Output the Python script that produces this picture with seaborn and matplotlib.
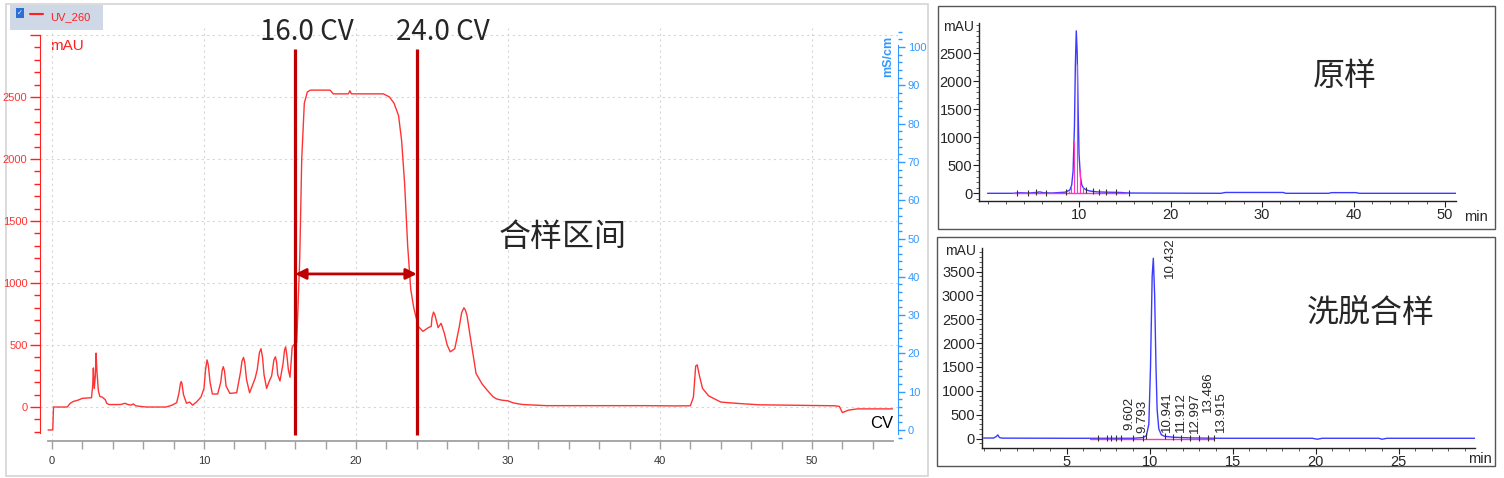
# 层析图 + 两张HPLC图 复刻
import numpy as np
import pandas as pd
import seaborn as sns
import matplotlib
matplotlib.use('Agg')
from matplotlib import pyplot as plt
from matplotlib import font_manager
from matplotlib.patches import Rectangle
from matplotlib.ticker import MultipleLocator

# ---- 左图: UV_260 洗脱曲线 (CV, mAU) ----
cv = [-0.26, 0.05, 0.1, 1.0, 1.2, 1.4, 1.7, 2.0, 2.6, 2.68, 2.72, 2.78, 2.85, 2.9,
      2.95, 3.05, 3.15, 3.3, 3.5, 3.6, 3.75, 4.5, 4.8, 5.0, 5.2, 5.35, 5.5, 5.8,
      6.2, 7.5, 7.9, 8.2, 8.35, 8.45, 8.5, 8.55, 8.65, 8.85, 9.05, 9.25, 9.5, 9.8,
      10.0, 10.1, 10.2, 10.28, 10.4, 10.55, 10.9, 11.1, 11.2, 11.27, 11.35, 11.45,
      11.7, 12.15, 12.4, 12.5, 12.6, 12.68, 12.8, 13.0, 13.2, 13.36, 13.5, 13.65,
      13.75, 13.85, 13.95, 14.12, 14.3, 14.45, 14.6, 14.7, 14.78, 14.85, 15.0,
      15.2, 15.3, 15.37, 15.45, 15.55, 15.66, 15.8, 15.9, 16.1, 16.3, 16.43, 16.6,
      16.8, 17.0, 18.3, 18.5, 19.5, 19.6, 19.7, 21.8, 22.2, 22.5, 22.8, 23.0,
      23.2, 23.4, 23.6, 23.8, 24.1, 24.4, 24.76, 24.95, 25.0, 25.1, 25.2, 25.4,
      25.6, 25.8, 26.0, 26.2, 26.5, 26.8, 26.95, 27.1, 27.2, 27.3, 27.5, 27.9,
      28.3, 28.6, 29.0, 29.25, 29.6, 30.0, 30.3, 30.7, 31.0, 32.5, 39.0, 41.0,
      42.0, 42.2, 42.35, 42.45, 42.6, 42.8, 43.2, 43.6, 44.0, 45.0, 46.5, 50.0,
      51.5, 51.8, 52.0, 52.4, 53.0, 55.3]
uv = [-185, -185, 0, 0, 30, 45, 55, 70, 75, 180, 315, 150, 250, 435,
      300, 130, 85, 80, 60, 30, 20, 20, 30, 20, 15, 25, 10, 5,
      0, 0, 15, 35, 110, 190, 205, 190, 100, 30, 40, 15, 40, 80,
      150, 300, 380, 340, 200, 105, 105, 200, 300, 325, 290, 170,
      110, 115, 280, 370, 400, 360, 220, 115, 180, 230, 300, 440,
      470, 400, 260, 150, 210, 250, 380, 405, 360, 260, 210,
      350, 460, 485, 420, 300, 240, 480, 500, 520, 1200, 2000, 2450,
      2540, 2555, 2555, 2525, 2525, 2550, 2525, 2525, 2500, 2450, 2350, 2150,
      1800, 1300, 950, 800, 650, 610, 640, 650, 720, 765, 740, 640,
      675, 600, 500, 445, 470, 650, 760, 800, 780, 740, 580, 270,
      185, 140, 85, 65, 55, 50, 35, 25, 20, 11, 11, 9,
      10, 80, 330, 340, 250, 150, 90, 65, 40, 30, 18, 12,
      10, 5, -45, -25, -15, -15]

cut_cv = [16.0, 24.0]
cut_text = ['16.0 CV', '24.0 CV']
cut_text_cv = [16.8, 25.7]
pool_text = '合样区间'

# ---- 右上: 原样 HPLC (min, mAU) ----
t_raw = [0, 2.8, 3.5, 4.5, 5.3, 5.7, 6.1, 7.0, 8.5, 9.0, 9.2, 9.35, 9.5, 9.6, 9.7,
         9.8, 9.9, 10.0, 10.15, 10.3, 10.5, 10.8, 11.2, 12.0, 13.0, 14.5, 15.5,
         25.5, 26.0, 32.3, 32.6, 37.3, 37.6, 40.3, 40.6, 51.2]
s_raw = [0, 0, 10, 5, 15, 25, 10, 5, 20, 60, 150, 400, 1200, 2300, 2900,
         2500, 1500, 700, 300, 150, 90, 60, 40, 25, 20, 15, 5,
         0, 15, 15, 0, 0, 12, 12, 0, 0]
base_raw = [2.8, 15.2]
drop_raw = [8.85, 9.15, 9.45, 9.82, 10.1, 10.4]
event_raw = [3.2, 4.4, 5.3, 6.4, 8.6, 10.8, 11.5, 12.2, 12.9, 14.0, 15.5]

# ---- 右下: 洗脱合样 HPLC ----
t_pool = [0, 0.6, 0.75, 0.85, 0.95, 1.1, 5.0, 9.0, 9.6, 9.8, 9.95, 10.05, 10.15,
          10.22, 10.3, 10.38, 10.45, 10.55, 10.7, 10.9, 11.5, 12.5, 14.0, 19.8,
          20.1, 20.4, 23.8, 24.0, 24.3, 29.6]
s_pool = [10, 10, 40, 75, 20, 8, 5, 5, 20, 60, 300, 1500, 3400,
          3780, 3000, 1500, 600, 200, 80, 45, 25, 12, 5, 5,
          -15, 5, 5, -15, 5, 5]
base_pool = [6.4, 13.9]
event_pool = [6.9, 7.4, 7.7, 8.0, 8.3, 9.0, 9.6, 9.8, 10.9, 11.4, 11.9, 12.4,
              13.0, 13.5, 13.9]
peak_rt = [9.602, 9.793, 10.432, 10.941, 11.912, 12.997, 13.486, 13.915]
peak_lab_x = [8.77, 9.57, 11.22, 11.06, 11.87, 12.73, 13.53, 14.28]
peak_lab_y = [178, 115, 3358, 135, 135, 115, 562, 135]

sns.set_style('white')
plt.rcParams['font.family'] = ['Liberation Sans', 'Noto Sans CJK SC', 'DejaVu Sans']
names = {f.name for f in font_manager.fontManager.ttflist}
narrow = 'Liberation Sans Narrow' if 'Liberation Sans Narrow' in names else 'Liberation Sans'
cjk = ['Noto Sans CJK SC', 'DejaVu Sans']

W, H = 1504, 478
fig = plt.figure(figsize=(W / 100, H / 100), dpi=100)


def px_axes(x0, y0, x1, y1):
    a = fig.add_axes([x0 / W, 1 - y1 / H, (x1 - x0) / W, (y1 - y0) / H])
    a.set_facecolor('none')
    return a


# 背景层 (像素坐标): 边框, 图例, 单位文字
bg = px_axes(0, 0, W, H)
bg.set_xlim(0, W)
bg.set_ylim(H, 0)
bg.axis('off')
bg.add_patch(Rectangle((6, 4), 922, 472, fill=False, ec='#d4d4d4', lw=1.2))
bg.add_patch(Rectangle((938, 6), 557, 223, fill=False, ec='#555555', lw=1.0))
bg.add_patch(Rectangle((937, 237), 558, 229, fill=False, ec='#555555', lw=1.0))
bg.add_patch(Rectangle((10, 5), 93, 25, fc='#cfd8e6', ec='none'))
bg.add_patch(Rectangle((16, 8), 8, 10, fc='#2e6fd0', ec='none'))
bg.text(20, 13, '✓', color='white', fontsize=5, ha='center', va='center', family='DejaVu Sans')
bg.plot([30, 43], [14, 14], color='#ff2020', lw=1.5)
bg.text(50, 17, 'UV_260', color='#ff2020', fontsize=8, family=narrow, va='center')
bg.text(50, 46, 'mAU', color='#ff2020', fontsize=11, family=narrow, va='center')
bg.text(882, 423, 'CV', color='black', fontsize=12, family=narrow, ha='center', va='center')
bg.text(888, 56, 'mS/cm', color='#3399ff', fontsize=9, family=narrow, weight='bold',
        rotation=90, ha='center', va='center')
bg.text(974, 27, 'mAU', fontsize=10, ha='right', va='center')
bg.text(1476, 217, 'min', fontsize=10.5, ha='center', va='center')
bg.text(976, 251, 'mAU', fontsize=10, ha='right', va='center')
bg.text(1480, 459, 'min', fontsize=10.5, ha='center', va='center')

# ---- 左图 ----
ax = px_axes(40, 28, 898, 441)
sns.lineplot(x=cv, y=uv, ax=ax, color='#ff3333', linewidth=1.0, estimator=None, sort=False)
ax.set_xlim(-0.79, 55.66)
ax.set_ylim(-274, 3056)
ax.set_yticks(range(0, 3001, 500))
ax.yaxis.set_minor_locator(MultipleLocator(100))
ax.set_xticks(range(0, 51, 10))
ax.xaxis.set_minor_locator(MultipleLocator(2))
ax.grid(True, which='major', color='#d6d6d6', ls=(0, (2, 3)), lw=0.8)
ax.set_yticklabels([str(v) if v < 3000 else '' for v in range(0, 3001, 500)])
for s in ['top', 'right']:
    ax.spines[s].set_visible(False)
ax.spines['left'].set_color('#ff2020')
ax.spines['left'].set_bounds(-210, 3000)
ax.spines['bottom'].set_color('#a0a0a0')
ax.spines['bottom'].set_linewidth(1.3)
ax.spines['bottom'].set_bounds(-0.26, 55.3)
ax.tick_params(axis='y', which='major', direction='out', length=7, width=1,
               color='#ff2020', labelcolor='#ff3333', labelsize=8, pad=2,
               labelfontfamily=narrow, left=True)
ax.tick_params(axis='y', which='minor', direction='out', length=4, width=1,
               color='#ff2020', left=True)
ax.tick_params(axis='x', which='both', direction='out', length=6, width=1,
               color='#a0a0a0', labelcolor='#333333', labelsize=8, pad=5,
               labelfontfamily=narrow, bottom=True)
ax.set_xlabel('')
ax.set_ylabel('')

ax.vlines(cut_cv, -226, 2885, color='#c00000', lw=2.3, zorder=4)
ax.annotate('', xy=(cut_cv[1], 1073), xytext=(cut_cv[0], 1073),
            arrowprops=dict(arrowstyle='<|-|>', color='#c00000', lw=2,
                            mutation_scale=16, shrinkA=0, shrinkB=0), zorder=5)
for tx, lab in zip(cut_text_cv, cut_text):
    ax.text(tx, 2960, lab, ha='center', va='baseline', fontsize=20, family=cjk)
ax.text(33.6, 1371, pool_text, ha='center', va='center', fontsize=23, family=cjk)

ax2 = ax.twinx()
ax2.set_facecolor('none')
ax2.set_ylim(-2.87, 104.96)
ax2.set_yticks(range(0, 101, 10))
ax2.yaxis.set_minor_locator(MultipleLocator(2))
for s in ['top', 'left', 'bottom']:
    ax2.spines[s].set_visible(False)
ax2.spines['right'].set_color('#3399ff')
ax2.spines['right'].set_bounds(-1, 100.5)
ax2.tick_params(axis='y', which='major', direction='out', length=5, width=1,
                color='#3399ff', labelcolor='#3399ff', labelsize=8, pad=2,
                labelfontfamily=narrow, right=True)
ax2.tick_params(axis='y', which='minor', direction='out', length=3, width=1,
                color='#3399ff', right=True)
ax2.grid(False)


def hplc_axes(a, t, s, base, events, xl, yl, xmaj, xmin, ymax):
    sns.lineplot(x=t, y=s, ax=a, color='#3b3bff', linewidth=1.0, estimator=None, sort=False)
    a.plot(base, [0, 0], color='#ff33cc', lw=1.0, zorder=3)
    a.plot(events, np.interp(events, t, s), ls='none', marker='|', ms=4,
           mew=0.8, color='#333333', zorder=4)
    a.set_xlim(*xl)
    a.set_ylim(*yl)
    a.set_xticks(np.arange(xmaj, xl[1], xmaj))
    a.xaxis.set_minor_locator(MultipleLocator(xmin))
    a.set_yticks(range(0, ymax + 1, 500))
    a.yaxis.set_minor_locator(MultipleLocator(100))
    for sp in ['top', 'right']:
        a.spines[sp].set_visible(False)
    for sp in ['left', 'bottom']:
        a.spines[sp].set_color('#222222')
        a.spines[sp].set_linewidth(1.0)
    a.tick_params(which='major', direction='out', length=4, width=0.8, color='#222222',
                  labelsize=10.5, pad=1, left=True, bottom=True)
    a.tick_params(which='minor', direction='out', length=2.5, width=0.6, color='#444444',
                  left=True, bottom=True)
    a.grid(False)
    a.set_xlabel('')
    a.set_ylabel('')


# ---- 右上 ----
ax3 = px_axes(979.3, 22.7, 1456, 200.7)
hplc_axes(ax3, t_raw, s_raw, base_raw, event_raw, (-0.9, 51.2), (-132, 3046), 10, 2, 2500)
ax3.vlines(drop_raw, 0, np.interp(drop_raw, t_raw, s_raw), color='#ff33cc', lw=0.8, zorder=2)
ax3.text(1345, 76, '原样', transform=bg.transData, fontsize=23, family=cjk,
         ha='center', va='center')

# ---- 右下 ----
ax4 = px_axes(981.7, 248, 1475, 448)
hplc_axes(ax4, t_pool, s_pool, base_pool, event_pool, (-0.12, 29.6), (-199, 3994), 5, 1, 3500)
for rt, lx, ly in zip(peak_rt, peak_lab_x, peak_lab_y):
    ax4.text(lx, ly, f'{rt:.3f}', rotation=90, ha='center', va='bottom', fontsize=9.5,
             clip_on=False)
ax4.text(1371, 313, '洗脱合样', transform=bg.transData, fontsize=23, family=cjk,
         ha='center', va='center')

fig.savefig('out.png', dpi=100)
